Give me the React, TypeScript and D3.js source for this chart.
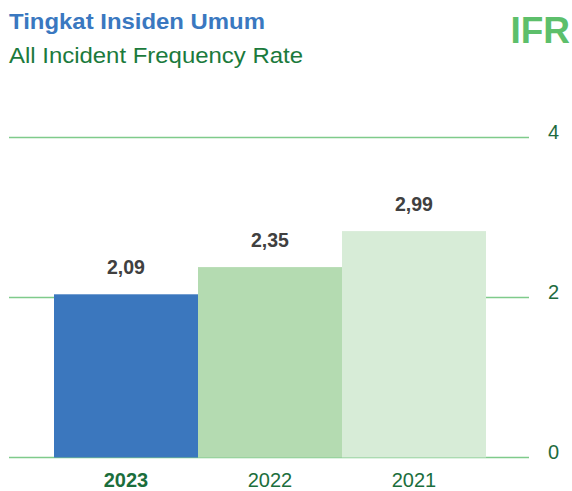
import React from "react";
import * as d3 from "d3";

const years = ["2023", "2022", "2021"];
const barValues = [2.04, 2.38, 2.83];
const valueLabels = ["2,09", "2,35", "2,99"];
const barColors = ["#3b77be", "#b4dbb1", "#d7ecd7"];
const yTicks = [0, 2, 4];

const W = 572;
const H = 491;

export default function App() {
  const x = d3.scaleBand<string>().domain(years).range([54, 486]).padding(0);
  const y = d3.scaleLinear().domain([0, 4]).range([457.5, 137.5]);
  const font = "'Liberation Sans', Arial, Helvetica, sans-serif";

  return (
    <svg
      width={W}
      height={H}
      viewBox={`0 0 ${W} ${H}`}
      style={{ position: "absolute", left: 0, top: 0, display: "block" }}
      fontFamily={font}
    >
      <rect width={W} height={H} fill="#ffffff" />
      <text x={9} y={29} fontSize={22.5} fontWeight="bold" fill="#3a78c0" textLength={256} lengthAdjust="spacingAndGlyphs">
        Tingkat Insiden Umum
      </text>
      <text x={9} y={63} fontSize={21.5} fill="#1b7a3c" textLength={294} lengthAdjust="spacingAndGlyphs">
        All Incident Frequency Rate
      </text>
      <text x={570} y={43} fontSize={37} fontWeight="bold" fill="#5dbf6b" textAnchor="end">
        IFR
      </text>

      {yTicks.map((t) => (
        <g key={t}>
          <line x1={9} x2={529} y1={y(t)} y2={y(t)} stroke="#7fcb8b" strokeWidth={1.4} />
          <text x={548} y={y(t) + 1} fontSize={20} fill="#1e6b3e">
            {t}
          </text>
        </g>
      ))}

      {years.map((yr, i) => (
        <g key={yr}>
          <rect
            x={x(yr)!}
            y={y(barValues[i])}
            width={x.bandwidth()}
            height={y(0) - y(barValues[i])}
            fill={barColors[i]}
          />
          <text
            x={x(yr)! + x.bandwidth() / 2}
            y={y(barValues[i]) - 20}
            fontSize={19.5}
            fontWeight="bold"
            fill="#404040"
            textAnchor="middle"
          >
            {valueLabels[i]}
          </text>
          <text
            x={x(yr)! + x.bandwidth() / 2}
            y={486.5}
            fontSize={20}
            fontWeight={i === 0 ? "bold" : "normal"}
            fill="#1b6e3c"
            textAnchor="middle"
          >
            {yr}
          </text>
        </g>
      ))}
    </svg>
  );
}
